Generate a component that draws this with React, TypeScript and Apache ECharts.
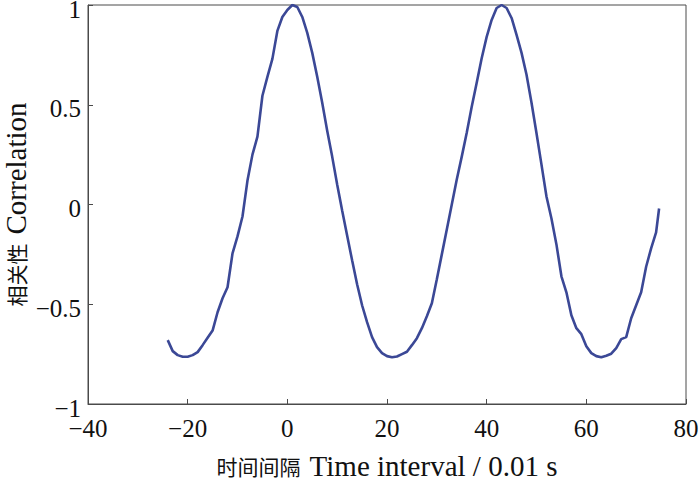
import React, { useEffect, useRef } from "react";
import * as echarts from "echarts";

const xTicks = [-40, -20, 0, 20, 40, 60, 80];
const yTicks = [-1, -0.5, 0, 0.5, 1];

const lagValues = [
  -24, -23, -22, -21, -20, -19, -18, -17, -16, -15, -14, -13, -12, -11, -10, -9, -8, -7, -6, -5,
  -4, -3, -2, -1, 0, 1, 2, 3, 4, 5, 6, 7, 8, 9, 10, 11, 12, 13, 14, 15, 16, 17, 18, 19, 20, 21,
  22, 23, 24, 25, 26, 27, 28, 29, 30, 31, 32, 33, 34, 35, 36, 37, 38, 39, 40, 41, 42, 43, 44, 45,
  46, 47, 48, 49, 50, 51, 52, 53, 54, 55, 56, 57, 58, 59, 60, 61, 62, 63, 64, 65, 66, 67, 68, 69,
  70, 71, 72, 73, 74, 74.6,
];

const correlationValues = [
  -0.68, -0.735, -0.755, -0.763, -0.763, -0.755, -0.74, -0.705, -0.668, -0.632, -0.54, -0.47,
  -0.415, -0.245, -0.16, -0.06, 0.12, 0.25, 0.34, 0.545, 0.64, 0.73, 0.87, 0.94, 0.975, 1.0, 0.99,
  0.94, 0.86, 0.76, 0.64, 0.51, 0.37, 0.24, 0.1, -0.03, -0.155, -0.28, -0.4, -0.505, -0.59, -0.665,
  -0.715, -0.745, -0.76, -0.766, -0.762, -0.75, -0.738, -0.705, -0.67, -0.62, -0.56, -0.495, -0.375,
  -0.25, -0.125, 0.0, 0.125, 0.24, 0.36, 0.49, 0.61, 0.733, 0.84, 0.925, 0.985, 1.0, 0.985, 0.935,
  0.85, 0.76, 0.65, 0.51, 0.357, 0.2, 0.04, -0.07, -0.2, -0.36, -0.44, -0.555, -0.62, -0.65, -0.71,
  -0.745, -0.76, -0.766, -0.758, -0.748, -0.72, -0.675, -0.665, -0.57, -0.505, -0.44, -0.312, -0.22,
  -0.14, -0.02,
];

const xAxisTitleCn = "时间间隔";
const xAxisTitleEn = "Time interval / 0.01 s";
const yAxisTitleCn = "相关性";
const yAxisTitleEn = "Correlation";

const serif = "'Liberation Serif', 'Noto Sans CJK SC', serif";
const cjk = "'Noto Sans CJK SC', serif";

function fmt(v: number): string {
  const s = String(v);
  return v < 0 ? "\u2212" + s.slice(1) : s;
}

const nameRich = {
  cn: { fontFamily: cjk, fontSize: 21, color: "#111", lineHeight: 30 },
  sp: { fontFamily: serif, fontSize: 20, color: "#111", width: 9, lineHeight: 30 },
  en: { fontFamily: serif, fontSize: 29, color: "#111", lineHeight: 30 },
};

export default function App() {
  const ref = useRef<HTMLDivElement>(null);
  useEffect(() => {
    if (!ref.current) return;
    const chart = echarts.init(ref.current, null, { renderer: "svg" });
    const data = lagValues.map((x, i) => [x, correlationValues[i]]);
    const axisLineStyle = { color: "#4a4a4a", width: 1 };
    chart.setOption({
      animation: false,
      backgroundColor: "#ffffff",
      grid: {
        left: 88,
        right: 14,
        top: 5,
        bottom: 77,
        outerBoundsMode: "none",
        containLabel: false,
        show: true,
        borderColor: "#4a4a4a",
        borderWidth: 1,
        backgroundColor: "transparent",
      },
      xAxis: {
        type: "value",
        min: xTicks[0],
        max: xTicks[xTicks.length - 1],
        interval: 20,
        name: `{cn|${xAxisTitleCn}}{sp| }{en|${xAxisTitleEn}}`,
        nameLocation: "middle",
        nameGap: 47,
        nameMoveOverlap: false,
        nameTextStyle: { rich: nameRich, lineHeight: 30 },
        axisLine: { show: true, onZero: false, lineStyle: axisLineStyle },
        axisTick: { show: true, inside: true, length: 5, lineStyle: axisLineStyle },
        axisLabel: {
          fontFamily: serif,
          fontSize: 25,
          color: "#111",
          margin: 12,
          formatter: (v: number) => fmt(v),
        },
        splitLine: { show: false },
      },
      yAxis: {
        type: "value",
        min: yTicks[0],
        max: yTicks[yTicks.length - 1],
        interval: 0.5,
        name: `{cn|${yAxisTitleCn}}{sp| }{en|${yAxisTitleEn}}`,
        nameLocation: "middle",
        nameRotate: 90,
        nameGap: 57,
        nameMoveOverlap: false,
        nameTextStyle: { rich: nameRich, lineHeight: 30 },
        axisLine: { show: true, onZero: false, lineStyle: axisLineStyle },
        axisTick: { show: true, inside: true, length: 5, lineStyle: axisLineStyle },
        axisLabel: {
          fontFamily: serif,
          fontSize: 25,
          color: "#111",
          margin: 7,
          verticalAlign: "top",
          lineHeight: 8,
          formatter: (v: number) => fmt(v),
        },
        splitLine: { show: false },
      },
      series: [
        {
          type: "line",
          data,
          showSymbol: false,
          symbol: "none",
          smooth: false,
          lineStyle: { color: "#3b4896", width: 2.6 },
        },
      ],
    });
    return () => chart.dispose();
  }, []);
  return (
    <div
      ref={ref}
      style={{ position: "fixed", left: 0, top: 0, width: 700, height: 481, background: "#fff" }}
    />
  );
}
